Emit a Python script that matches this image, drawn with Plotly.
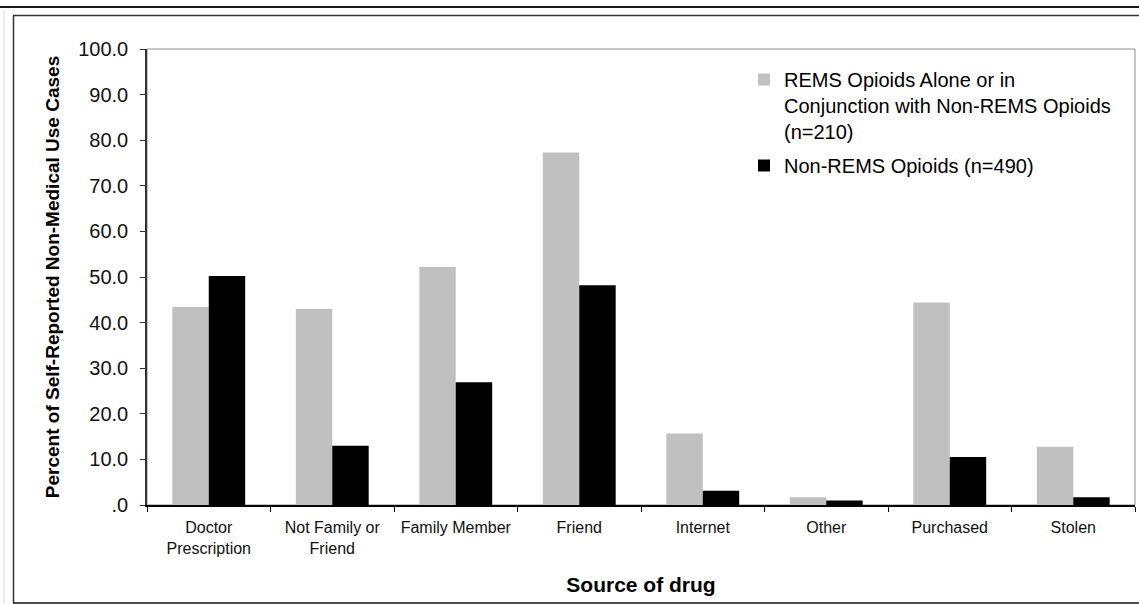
import plotly.graph_objects as go

# Sources of drug for self-reported non-medical use, by opioid group (percent)
categories = ["Doctor<br>Prescription", "Not Family or<br>Friend", "Family Member",
              "Friend", "Internet", "Other", "Purchased", "Stolen"]
rems_name = "REMS Opioids Alone or in<br>Conjunction with Non-REMS Opioids<br>(n=210)"
rems_values = [43.4, 43.0, 52.2, 77.3, 15.7, 1.7, 44.4, 12.8]
nonrems_name = "Non-REMS Opioids (n=490)"
nonrems_values = [50.2, 13.0, 26.9, 48.2, 3.1, 1.0, 10.5, 1.7]
y_tickvals = [0, 10, 20, 30, 40, 50, 60, 70, 80, 90, 100]
y_ticktext = [".0", "10.0", "20.0", "30.0", "40.0", "50.0", "60.0", "70.0", "80.0", "90.0", "100.0"]

FONT = "Liberation Sans, Arial, sans-serif"
W, H = 1139, 604
L, R, T, B = 147, 4, 49, 99
PW, PH = W - L - R, H - T - B


def px_x(x):
    """Convert a pixel column of the page to paper x."""
    return (x - L) / PW


def px_y(y):
    """Convert a pixel row of the page to paper y."""
    return (H - B - y) / PH


fig = go.Figure()
fig.add_trace(go.Bar(x=categories, y=rems_values, name=rems_name, legendgroup="rems",
                     marker=dict(color="#c0c0c0", line=dict(width=0))))
fig.add_trace(go.Bar(x=categories, y=nonrems_values, name=nonrems_name, legendgroup="nonrems",
                     marker=dict(color="#000000", line=dict(width=0))))

shapes = [
    # plot area outline (top and right edges in grey)
    dict(type="rect", xref="paper", yref="paper", x0=0, x1=1, y0=0, y1=1,
         line=dict(color="#8c8c8c", width=1), layer="below"),
    # page rule across the top
    dict(type="line", xref="paper", yref="paper", x0=px_x(0), x1=px_x(W),
         y0=px_y(7), y1=px_y(7), line=dict(color="#1a1a1a", width=2)),
    # chart frame
    dict(type="line", xref="paper", yref="paper", x0=px_x(13), x1=px_x(W),
         y0=px_y(15.5), y1=px_y(15.5), line=dict(color="#333333", width=1.5)),
    dict(type="line", xref="paper", yref="paper", x0=px_x(13.5), x1=px_x(13.5),
         y0=px_y(15.5), y1=px_y(603), line=dict(color="#333333", width=1.5)),
    dict(type="line", xref="paper", yref="paper", x0=px_x(13), x1=px_x(W),
         y0=px_y(603), y1=px_y(603), line=dict(color="#111111", width=1.5)),
    # faint margin line on the far left
    dict(type="line", xref="paper", yref="paper", x0=px_x(4), x1=px_x(4),
         y0=px_y(10), y1=px_y(H), line=dict(color="#d9d9d9", width=1)),
]

fig.update_layout(
    width=W, height=H,
    margin=dict(l=L, r=R, t=T, b=B, pad=0),
    paper_bgcolor="white", plot_bgcolor="white",
    font=dict(family=FONT, color="#000000"),
    barmode="group", bargap=0.41, bargroupgap=0,
    showlegend=True,
    legend=dict(x=px_x(744), y=px_y(60), xanchor="left", yanchor="top",
                font=dict(family=FONT, size=20, color="#000000"),
                bgcolor="rgba(0,0,0,0)", borderwidth=0, traceorder="grouped",
                valign="top", tracegroupgap=5,
                itemclick=False, itemdoubleclick=False),
    shapes=shapes,
    xaxis=dict(
        type="category", showgrid=False, zeroline=False,
        showline=True, linecolor="#000000", linewidth=1.5,
        ticks="outside", tickson="boundaries", ticklen=5, tickcolor="#000000",
        tickfont=dict(family=FONT, size=16, color="#111111"),
        ticklabelstandoff=7,
        title=dict(text="<b>Source of drug</b>", font=dict(family=FONT, size=21, color="#000000"),
                   standoff=22),
    ),
    yaxis=dict(
        range=[0, 100], showgrid=False, zeroline=False,
        showline=True, linecolor="#333333", linewidth=1.5,
        ticks="outside", ticklen=5, tickcolor="#333333",
        tickvals=y_tickvals, ticktext=y_ticktext,
        tickfont=dict(family=FONT, size=20, color="#111111"),
        ticklabelstandoff=8,
        title=dict(text="<b>Percent of Self-Reported Non-Medical Use Cases</b>",
                   font=dict(family=FONT, size=19, color="#000000"), standoff=14),
    ),
)

fig.write_html("out.html")
